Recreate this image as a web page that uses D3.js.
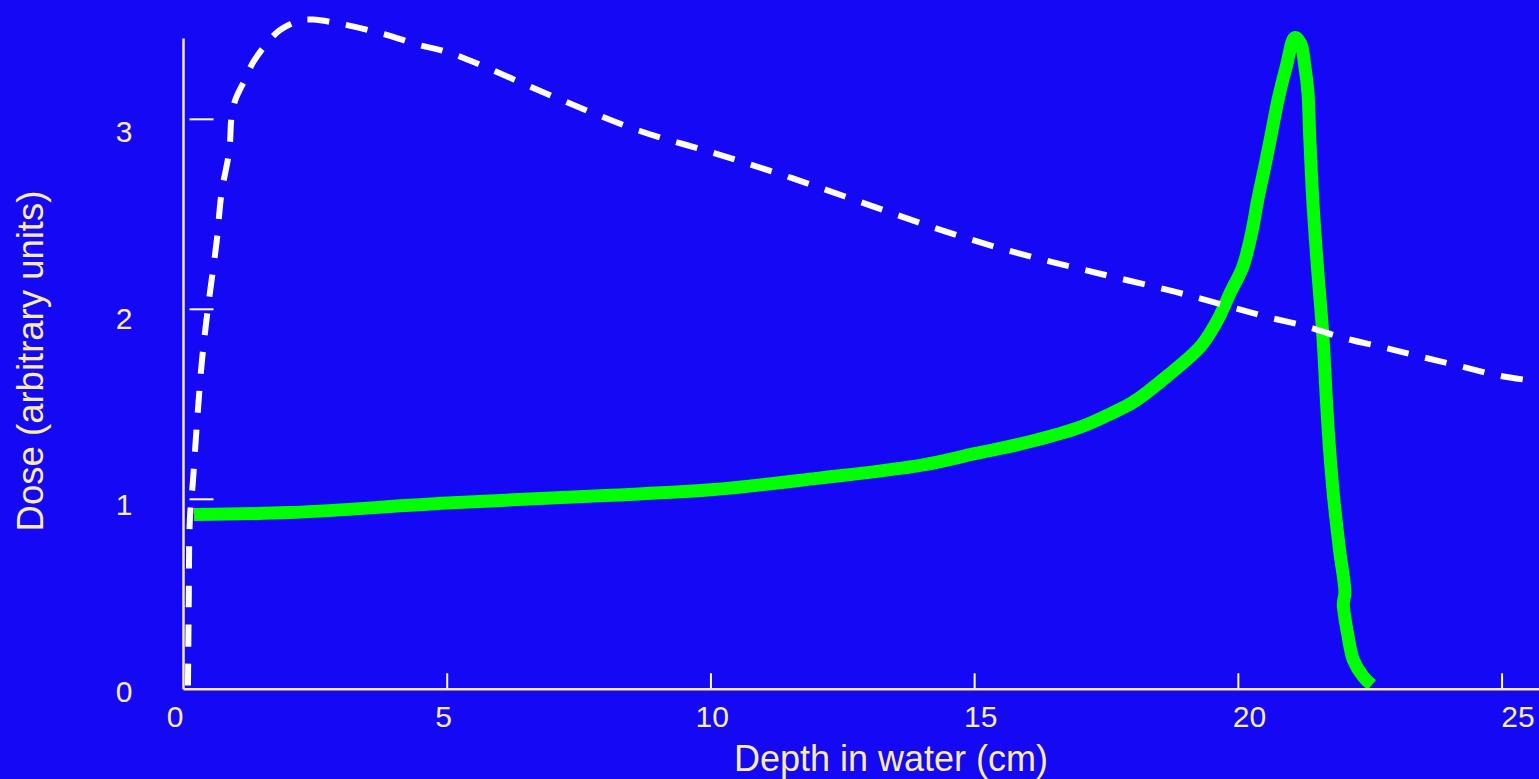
<!DOCTYPE html>
<html>
<head>
<meta charset="utf-8">
<script src="https://cdn.jsdelivr.net/npm/d3@7"></script>
<style>
  html, body { margin: 0; padding: 0; background: #1408F5; overflow: hidden; }
  svg { display: block; }
</style>
</head>
<body>
<div class="chart"></div>
<script>
// Proton beam (green) depth-dose values
const protonDepth = [0.2, 2, 5, 8, 10, 12, 14, 15, 16, 17, 17.5, 18, 18.3, 18.7, 19.0, 19.3, 19.6, 19.85,
    20.08, 20.25, 20.37, 20.5, 20.63, 20.75, 20.91, 21.07, 21.18, 21.26, 21.32, 21.35, 21.41, 21.5, 21.6,
    21.67, 21.73, 21.81, 21.92, 22.02, 21.99, 22.08, 22.18, 22.37, 22.53];
const protonDose = [0.92, 0.93, 0.98, 1.02, 1.05, 1.11, 1.18, 1.24, 1.30, 1.38, 1.44, 1.51, 1.57, 1.66, 1.73, 1.81, 1.94, 2.09,
    2.22, 2.40, 2.58, 2.75, 2.93, 3.10, 3.28, 3.43, 3.40, 3.28, 3.14, 2.93, 2.58, 2.22, 1.87,
    1.52, 1.26, 1.00, 0.73, 0.51, 0.45, 0.28, 0.155, 0.066, 0.023];

// Photon beam (white dashed) depth-dose values
const photonDepth = [0.085, 0.10, 0.12, 0.18, 0.26, 0.35, 0.46, 0.63, 0.72, 0.87, 0.91, 0.98, 1.13, 1.32, 1.58, 1.83,
    2.21, 2.46, 3.02, 3.78, 4.48, 5.05, 7.18, 8.64, 10.09, 11.54, 12.99, 14.44, 15.89, 17.34, 18.83, 19.76,
    20.54, 21.29, 21.98, 22.74, 23.47, 24.22, 24.96, 25.70];
const photonDose = [0.02, 0.47, 0.89, 1.10, 1.42, 1.73, 2.00, 2.36, 2.61, 2.84, 3.01, 3.10, 3.19, 3.30, 3.40, 3.47,
    3.52, 3.525, 3.50, 3.45, 3.39, 3.35, 3.10, 2.94, 2.82, 2.69, 2.55, 2.41, 2.29, 2.19, 2.09, 2.02,
    1.96, 1.91, 1.85, 1.80, 1.75, 1.70, 1.65, 1.62];

const xTicks = [0, 5, 10, 15, 20, 25];
const yTicks = [0, 1, 2, 3];
const xTitle = "Depth in water (cm)";
const yTitle = "Dose (arbitrary units)";

const width = 1539;
const height = 779;
const axisColor = "#F8E9A2";
const textColor = "#F8EBA4";
const font = "'Liberation Sans', Arial, Helvetica, sans-serif";

const svg = d3.select(".chart")
    .append("svg")
    .attr("width", width)
    .attr("height", height);

svg.append("rect")
    .attr("width", width)
    .attr("height", height)
    .attr("fill", "#1408F5");

// Scales
const x = d3.scaleLinear().domain([0, 25.7]).range([183.5, 1539]);
const y = d3.scaleLinear().domain([0, 3.628]).range([689.3, 0]);
// tick labels in the original sit a little off the ticks
const xLab = d3.scaleLinear().domain([0, 25]).range([175, 1518]);
const yLab = d3.scaleLinear().domain([0, 3]).range([691.5, 131]);

const protonData = protonDepth.map((d, i) => ({ depth: d, dose: protonDose[i] }));
const photonData = photonDepth.map((d, i) => ({ depth: d, dose: photonDose[i] }));

const line = d3.line()
    .x(d => x(d.depth))
    .y(d => y(d.dose))
    .curve(d3.curveCatmullRom.alpha(0.5));

// Proton curve
svg.append("path")
    .datum(protonData)
    .attr("d", line)
    .attr("fill", "none")
    .attr("stroke", "#00FF00")
    .attr("stroke-width", 13)
    .attr("stroke-linejoin", "round");

// Photon curve, dashed
svg.append("path")
    .datum(photonData)
    .attr("d", line)
    .attr("fill", "none")
    .attr("stroke", "white")
    .attr("stroke-width", 6)
    .attr("stroke-dasharray", "22,17");

// Axis lines
svg.append("line")
    .attr("x1", x(0)).attr("x2", x(0))
    .attr("y1", y(0)).attr("y2", y(3.425))
    .attr("stroke", axisColor)
    .attr("stroke-width", 2.5);
svg.append("line")
    .attr("x1", x(0)).attr("x2", width)
    .attr("y1", y(0)).attr("y2", y(0))
    .attr("stroke", axisColor)
    .attr("stroke-width", 2.5);

// Ticks (white, drawn inside the plot)
svg.selectAll(".xtick")
    .data(xTicks.filter(d => d > 0))
    .join("line")
    .attr("class", "xtick")
    .attr("x1", d => x(d)).attr("x2", d => x(d))
    .attr("y1", y(0) - 1).attr("y2", y(0) - 16)
    .attr("stroke", "white")
    .attr("stroke-width", 2);

svg.selectAll(".ytick")
    .data(yTicks.filter(d => d > 0))
    .join("line")
    .attr("class", "ytick")
    .attr("x1", x(0) + 6).attr("x2", x(0) + 30)
    .attr("y1", d => y(d)).attr("y2", d => y(d))
    .attr("stroke", "white")
    .attr("stroke-width", 2);

// Tick labels
svg.selectAll(".xlabel")
    .data(xTicks)
    .join("text")
    .attr("class", "xlabel")
    .attr("x", d => xLab(d))
    .attr("y", 727)
    .attr("text-anchor", "middle")
    .text(d => d)
    .style("font-family", font)
    .style("font-size", "30px")
    .style("fill", textColor);

svg.selectAll(".ylabel")
    .data(yTicks)
    .join("text")
    .attr("class", "ylabel")
    .attr("x", 124)
    .attr("y", d => yLab(d))
    .attr("dy", "0.36em")
    .attr("text-anchor", "middle")
    .text(d => d)
    .style("font-family", font)
    .style("font-size", "30px")
    .style("fill", textColor);

// Axis titles
svg.append("text")
    .attr("x", 891)
    .attr("y", 771)
    .attr("text-anchor", "middle")
    .text(xTitle)
    .style("font-family", font)
    .style("font-size", "36px")
    .style("fill", textColor);

svg.append("text")
    .attr("transform", "translate(43,361) rotate(-90)")
    .attr("text-anchor", "middle")
    .text(yTitle)
    .style("font-family", font)
    .style("font-size", "36.5px")
    .style("fill", textColor);
</script>
</body>
</html>
